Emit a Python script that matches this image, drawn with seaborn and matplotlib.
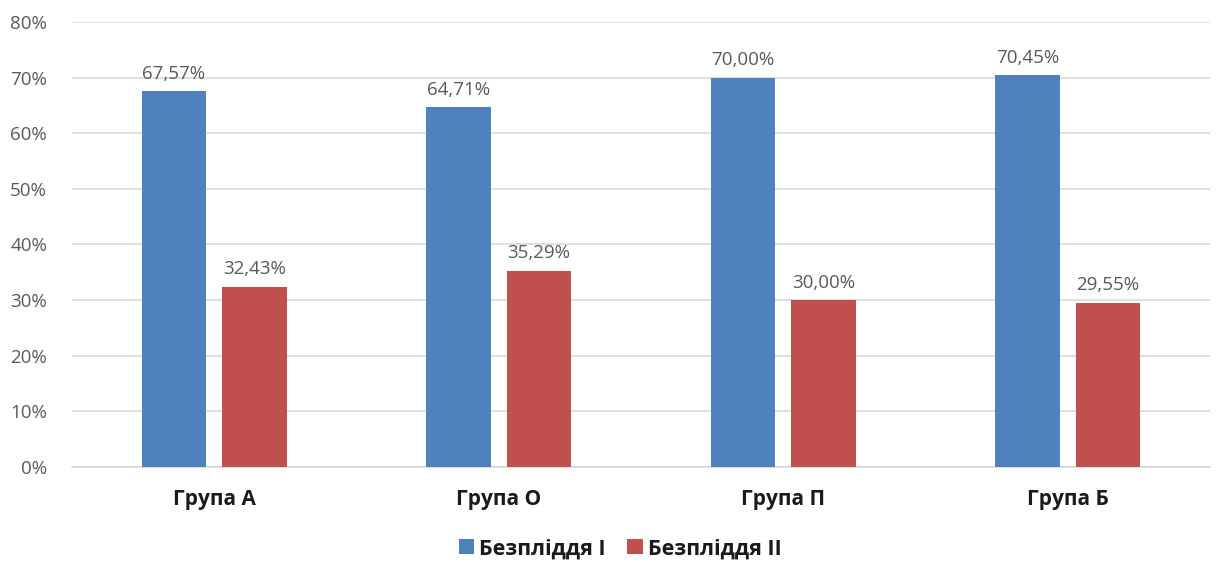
import matplotlib
matplotlib.use("Agg")
import matplotlib.pyplot as plt
import seaborn as sns
import pandas as pd
from matplotlib.patches import Patch

groups = ["Група А", "Група О", "Група П", "Група Б"]
series = ["Безпліддя І", "Безпліддя ІІ"]
values_1 = [67.57, 64.71, 70.00, 70.45]
values_2 = [32.43, 35.29, 30.00, 29.55]
y_ticks = [0, 10, 20, 30, 40, 50, 60, 70, 80]

colors = ["#4F81BD", "#C0504D"]

df = pd.DataFrame({
    "group": groups * 2,
    "series": [series[0]] * len(groups) + [series[1]] * len(groups),
    "value": values_1 + values_2,
})

sns.set_style("white")
plt.rcParams["font.family"] = ["Open Sans", "DejaVu Sans"]

fig = plt.figure(figsize=(12.21, 5.63), dpi=100)
ax = fig.add_axes([0.059, 0.1705, 0.932, 0.7905])

sns.barplot(data=df, x="group", y="value", hue="series", order=groups,
            hue_order=series, palette=colors, width=0.566, gap=0.2,
            saturation=1, linewidth=0, edgecolor="none",
            ax=ax, legend=False, zorder=3)

# value labels with comma decimals
for container in ax.containers:
    labels = [f"{b.get_height():.2f}%".replace(".", ",") for b in container]
    ax.bar_label(container, labels=labels, padding=6, fontsize=13.5,
                 color="#595959")

ax.set_ylim(0, 80)
ax.set_xlim(-0.5, 3.5)
ax.set_yticks(y_ticks)
ax.set_yticklabels([f"{t}%" for t in y_ticks], fontsize=13.5, color="#595959")
ax.yaxis.grid(True, color="#D9D9D9", linewidth=1.2, zorder=0)
ax.set_axisbelow(True)
ax.tick_params(axis="y", length=0, pad=18)
ax.tick_params(axis="x", length=0, pad=16)
for lbl in ax.get_xticklabels():
    lbl.set_fontweight("bold")
    lbl.set_fontsize(15)
    lbl.set_color("#1a1a1a")
ax.set_xlabel("")
ax.set_ylabel("")
for side in ["top", "right", "left"]:
    ax.spines[side].set_visible(False)
ax.spines["bottom"].set_color("#D9D9D9")
ax.spines["bottom"].set_linewidth(1.2)

handles = [Patch(facecolor=c, edgecolor="none") for c in colors]
leg = fig.legend(handles, series, loc="center", bbox_to_anchor=(0.508, 0.025),
                 ncol=2, frameon=False, handlelength=0.7, handleheight=0.7,
                 handletextpad=0.25, columnspacing=1.0,
                 prop={"weight": "bold", "size": 15.5})
for t in leg.get_texts():
    t.set_color("#1a1a1a")

fig.savefig("out.png", dpi=100)
